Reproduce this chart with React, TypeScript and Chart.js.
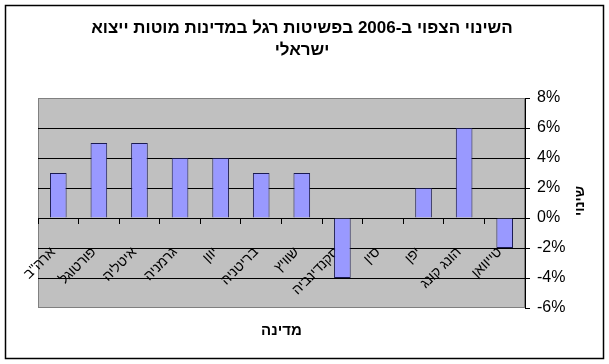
import { useEffect, useRef } from 'react';
import { Chart, registerables } from 'chart.js';

Chart.register(...registerables);

const titleLines = ['השינוי הצפוי ב-2006 בפשיטות רגל במדינות מוטות ייצוא', 'ישראלי'];
const xTitle = 'מדינה';
const yTitle = 'שינוי';
const categories = ['ארה"ב', 'פורטוגל', 'איטליה', 'גרמניה', 'יוון', 'בריטניה', 'שוויץ', 'סקנדינביה', 'סין', 'יפן', 'הונג קונג', 'טייוואן'];
const changes = [3, 5, 5, 4, 4, 3, 3, -4, 0, 2, 6, -2];
const yMin = -6;
const yMax = 8;
const yStep = 2;

const FONT = '"Liberation Sans", Arial, sans-serif';

const decor = {
  id: 'decor',
  beforeDraw(chart: any) {
    const { ctx, chartArea: ca, width, height } = chart;
    ctx.save();
    ctx.fillStyle = '#ffffff';
    ctx.fillRect(0, 0, width, height);
    ctx.fillStyle = '#c0c0c0';
    ctx.fillRect(ca.left, ca.top, ca.right - ca.left, ca.bottom - ca.top);
    ctx.strokeStyle = '#808080';
    ctx.lineWidth = 1;
    ctx.strokeRect(ca.left + 0.5, ca.top + 0.5, ca.right - ca.left - 1, ca.bottom - ca.top - 1);
    ctx.strokeStyle = '#000000';
    ctx.lineWidth = 1.5;
    ctx.strokeRect(5.5, 5.5, width - 11, height - 11);
    ctx.fillStyle = '#000000';
    ctx.textAlign = 'center';
    ctx.textBaseline = 'middle';
    ctx.font = 'bold 17px ' + FONT;
    titleLines.forEach((line, i) => ctx.fillText(line, 302, 28 + i * 22));
    ctx.font = 'bold 15px ' + FONT;
    ctx.fillText(xTitle, (ca.left + ca.right) / 2, 331);
    ctx.font = 'bold 14px ' + FONT;
    ctx.translate(580, (ca.top + ca.bottom) / 2 - 2);
    ctx.rotate(-Math.PI / 2);
    ctx.fillText(yTitle, 0, 0);
    ctx.restore();
  },
};

export default function App() {
  const ref = useRef<HTMLCanvasElement>(null);
  useEffect(() => {
    if (!ref.current) return;
    const chart = new Chart(ref.current, {
      type: 'bar',
      data: {
        labels: categories,
        datasets: [
          {
            data: changes,
            backgroundColor: '#9999ff',
            borderColor: '#1a1a50',
            borderWidth: 1,
            barPercentage: 0.41,
            categoryPercentage: 1,
          },
        ],
      },
      options: {
        responsive: false,
        animation: false,
        devicePixelRatio: 1,
        layout: { padding: { left: 38, top: 98, bottom: 56, right: 14 } },
        plugins: { legend: { display: false }, tooltip: { enabled: false }, title: { display: false } },
        scales: {
          x: {
            position: { y: 0 } as any,
            offset: true,
            ticks: {
              minRotation: 45,
              maxRotation: 45,
              autoSkip: false,
              font: { size: 14, family: FONT },
              color: '#000',
              padding: 21,
              labelOffset: -5,
            },
            grid: { drawOnChartArea: false, drawTicks: true, tickLength: 5, color: '#000', offset: true },
            border: { display: true, color: '#000', width: 1 },
          },
          y: {
            position: 'right',
            min: yMin,
            max: yMax,
            ticks: {
              stepSize: yStep,
              callback: (v: any) => v + '%',
              font: { size: 16, family: FONT },
              color: '#000',
              padding: 7,
            },
            grid: {
              color: (c: any) => (c.tick && (c.tick.value === yMin || c.tick.value === yMax) ? 'rgba(0,0,0,0)' : '#000'),
              tickColor: '#000',
              tickLength: 5,
            },
            border: { display: true, color: '#000', width: 1 },
            title: { display: false },
            afterFit: (s: any) => {
              s.width = 70;
            },
          },
        },
      },
      plugins: [decor],
    });
    return () => chart.destroy();
  }, []);
  return (
    <div style={{ position: 'absolute', left: 0, top: 0, width: 609, height: 364 }}>
      <canvas ref={ref} width={609} height={364} style={{ display: 'block' }} />
    </div>
  );
}
